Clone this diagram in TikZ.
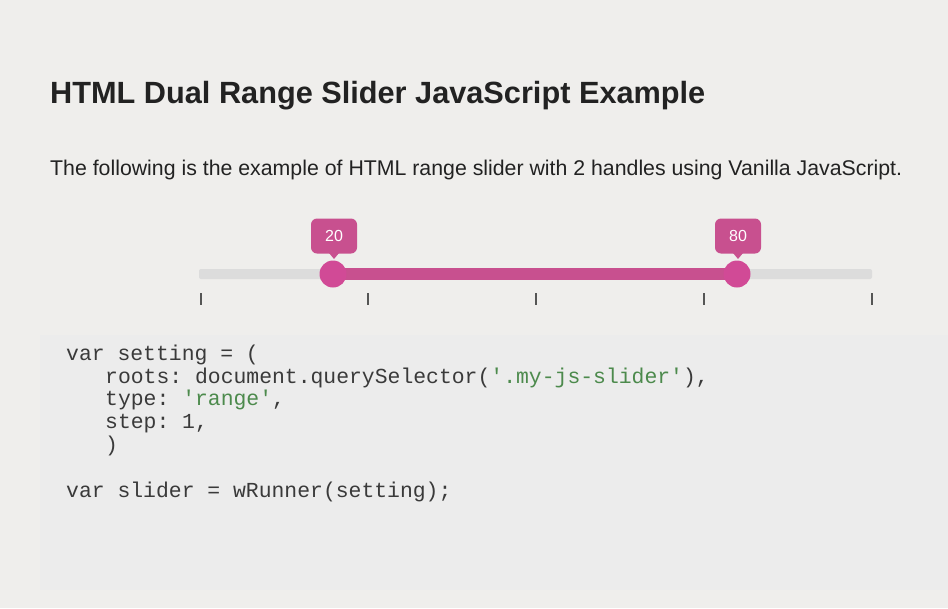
\documentclass[tikz,border=0pt]{standalone}
\usepackage{fontspec}
\setmainfont{Liberation Sans}
\setmonofont{Liberation Mono}
\definecolor{bg}{HTML}{EFEEEC}
\definecolor{codebg}{HTML}{ECECEC}
\definecolor{pinkc}{HTML}{C8508F}
\definecolor{handle}{HTML}{D14A96}
\definecolor{trackg}{HTML}{DCDCDC}
\definecolor{txt}{HTML}{222222}
\definecolor{codec}{HTML}{3A3A3A}
\definecolor{strc}{HTML}{4C8A4C}
\definecolor{tickc}{HTML}{555555}
\begin{document}
\begin{tikzpicture}[x=1pt,y=-1pt,
  code/.style={anchor=base west,inner sep=0,font=\fontsize{21.4}{24}\ttfamily,text=codec},
  bubble/.style={fill=pinkc,rounded corners=6pt,minimum width=46pt,minimum height=35pt,text=white,font=\fontsize{16}{18}\selectfont,inner sep=0},
  tk/.style={draw=tickc,line width=1.3pt}]
\useasboundingbox (0,0) rectangle (948,608);
\fill[bg] (0,0) rectangle (948,608);
\fill[codebg] (40,335) rectangle (948,590);
\node[anchor=base west,inner sep=0,font=\fontsize{30.7}{33}\bfseries,text=txt] (title) at (50,103) {HTML Dual Range Slider JavaScript Example};
\node[anchor=base west,inner sep=0,font=\fontsize{21.3}{24}\selectfont,text=txt] (sub) at (50,175) {The following is the example of HTML range slider with 2 handles using Vanilla JavaScript.};
% track
\fill[trackg,rounded corners=2pt] (199,269) rectangle (872,279);
\fill[pinkc] (333,268) rectangle (737,280);
\foreach \x/\n in {201/a,368/b,536/c,704/d,872/e}{\draw[tk] (\x,293) -- (\x,305);}
\node[circle,fill=handle,minimum size=27pt,inner sep=0] (h1) at (333,274) {};
\node[circle,fill=handle,minimum size=27pt,inner sep=0] (h2) at (737,274) {};
\node[bubble] (b1) at (334,236) {20};
\node[bubble] (b2) at (738,236) {80};
\fill[pinkc] (329,253) -- (339,253) -- (334,259) -- cycle;
\fill[pinkc] (733,253) -- (743,253) -- (738,259) -- cycle;
% code
\node[code] (c1) at (66,360) {var setting = (};
\node[code] (c2) at (105,383) {roots: document.querySelector(\textcolor{strc}{'.my-js-slider'}),};
\node[code] (c3) at (105,405) {type: \textcolor{strc}{'range'},};
\node[code] (c4) at (105,428) {step: 1,};
\node[code] (c5) at (105,451) {)};
\node[code] (c6) at (66,497) {var slider = wRunner(setting);};
\end{tikzpicture}
\end{document}
